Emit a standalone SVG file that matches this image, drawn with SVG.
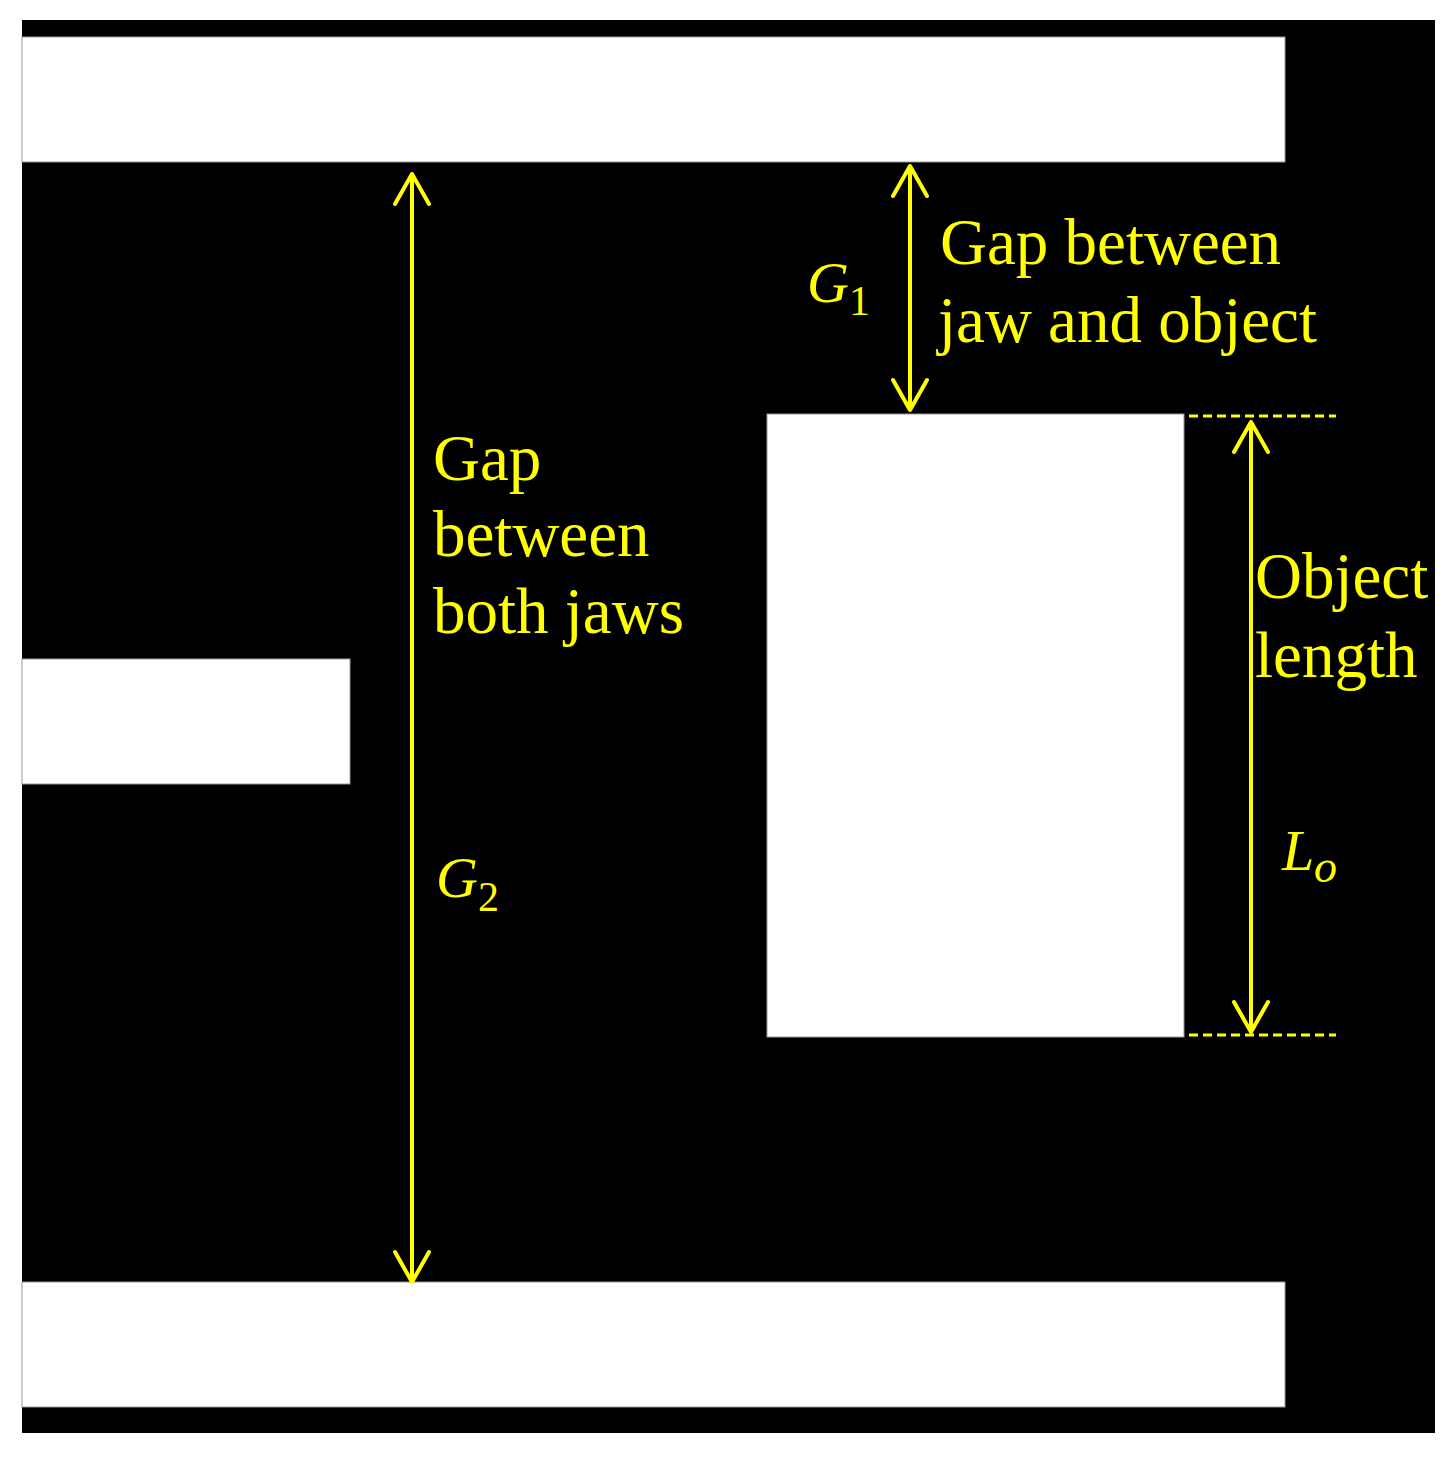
<svg xmlns="http://www.w3.org/2000/svg" width="1455" height="1459" viewBox="0 0 1455 1459">
<style>
.w{fill:#fff;stroke:#999;stroke-width:1}
.a{stroke:#ffff00;stroke-width:4;fill:none;stroke-linecap:round;stroke-linejoin:round}
.d{stroke:#ffff00;stroke-width:3;fill:none;stroke-dasharray:9 5}
.t{font-family:"Liberation Serif","Times New Roman",serif;font-size:65px;fill:#ffff00}
.m{font-family:"Liberation Serif","Times New Roman",serif;font-size:58px;fill:#ffff00;font-style:italic}
.s{font-family:"Liberation Serif","Times New Roman",serif;font-size:42px;fill:#ffff00}
</style>
<rect x="0" y="0" width="1455" height="1459" fill="#fff"/>
<g id="frame"><rect x="22" y="20" width="1413" height="1413" fill="#000"/></g>
<g id="top-jaw"><rect class="w" x="22" y="37" width="1263" height="125"/></g>
<g id="bottom-jaw"><rect class="w" x="22" y="1282" width="1263" height="125"/></g>
<g id="middle-jaw"><rect class="w" x="22" y="659" width="328" height="125"/></g>
<g id="object"><rect class="w" x="767" y="414" width="417" height="623"/></g>
<g id="connectors">
<path class="a" d="M412 174V1282M395 204L412 174L429 204M395 1252L412 1282L429 1252"/>
<path class="a" d="M910 166V410M893 196L910 166L927 196M893 380L910 410L927 380"/>
<path class="a" d="M1251 422V1032M1234 452L1251 422L1268 452M1234 1002L1251 1032L1268 1002"/>
<path class="d" d="M1189 416H1336"/>
<path class="d" d="M1189 1035H1336"/>
</g>
<g id="label-g1">
<text class="t" x="940" y="264">Gap between</text>
<text class="t" x="938" y="342">jaw and object</text>
<text class="m" x="807" y="302">G</text><text class="s" x="849" y="315">1</text>
</g>
<g id="label-g2">
<text class="t" x="433" y="480">Gap</text>
<text class="t" x="433" y="556">between</text>
<text class="t" x="433" y="633">both jaws</text>
<text class="m" x="436" y="897">G</text><text class="s" x="478" y="911">2</text>
</g>
<g id="label-lo">
<text class="t" x="1255" y="598">Object</text>
<text class="t" x="1255" y="677">length</text>
<text class="m" x="1282" y="870">L</text><text class="m" x="1314" y="882" style="font-size:46px">o</text>
</g>
</svg>
